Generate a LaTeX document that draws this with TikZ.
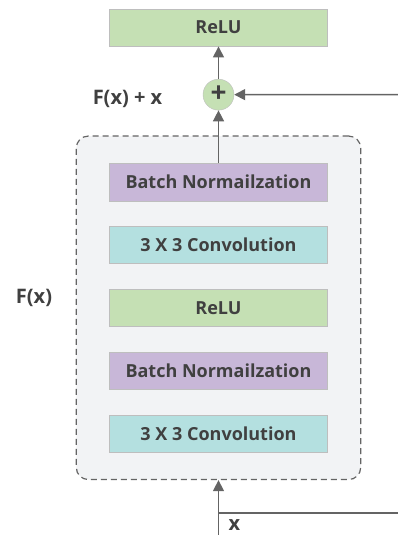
\documentclass[tikz,border=0pt]{standalone}
\usepackage{fontspec}
\setmainfont{Open Sans}
\usetikzlibrary{arrows.meta,positioning,fit,backgrounds}
\definecolor{reluc}{RGB}{197,224,180}
\definecolor{bnc}{RGB}{200,183,216}
\definecolor{convc}{RGB}{180,224,224}
\definecolor{blockc}{RGB}{242,243,245}
\definecolor{edgec}{RGB}{190,190,190}
\definecolor{linec}{RGB}{100,100,100}
\definecolor{textc}{RGB}{64,64,64}

\begin{document}
\begin{tikzpicture}[x=1pt,y=-1pt,
  every node/.style={font=\fontsize{18}{20}\selectfont\bfseries,text=textc},
  layer/.style={draw=edgec,minimum width=218pt,minimum height=37.5pt,inner sep=0pt},
  lbl/.style={anchor=base,font=\fontsize{20}{22}\selectfont\bfseries},
  arr/.style={-{Triangle[width=11pt,length=11pt]},linec,line width=1.5pt}]
\useasboundingbox (0,0) rectangle (398,535);
\node[layer,fill=reluc] (relutop) at (218.5,27.5) {ReLU};
\node[draw=edgec,fill=reluc,circle,minimum size=31pt,inner sep=0pt,
  below=32.5pt of relutop,font=\fontsize{28}{28}\selectfont\bfseries] (add) {+};
\node[layer,fill=bnc] (bn1) at (218.5,182) {Batch Normailzation};
\node[layer,fill=convc,below=25pt of bn1] (conv1) {3 X 3 Convolution};
\node[layer,fill=reluc,below=25pt of conv1] (relu) {ReLU};
\node[layer,fill=bnc,below=25pt of relu] (bn2) {Batch Normailzation};
\node[layer,fill=convc,below=25pt of bn2] (conv2) {3 X 3 Convolution};
\begin{scope}[on background layer]
\node[draw=linec,dash pattern=on 6pt off 4pt,line width=1.2pt,fill=blockc,
  rounded corners=12pt,inner xsep=33pt,inner ysep=27pt,fit=(bn1)(conv2)] (res) {};
\end{scope}
\node[lbl] (fx) at (34,303) {F(x)};
\node[lbl] (sum) at (127.5,104) {F(x) + x};
\coordinate (xin) at (218.5,535);
\coordinate (xbr) at (218.5,513);
\coordinate (xend) at (398,513);
\coordinate (skip) at (398,94.5);
\node[lbl] (xlab) at (234.5,530) {x};
% connections
\draw[arr] (xin) -- (res.south);
\draw[linec,line width=1.5pt] (xbr) -- (xend);
\draw[arr] (bn1.north) -- (add.south);
\draw[arr] (add.north) -- (relutop.south);
\draw[arr] (skip) -- (add.east);
\end{tikzpicture}
\end{document}
